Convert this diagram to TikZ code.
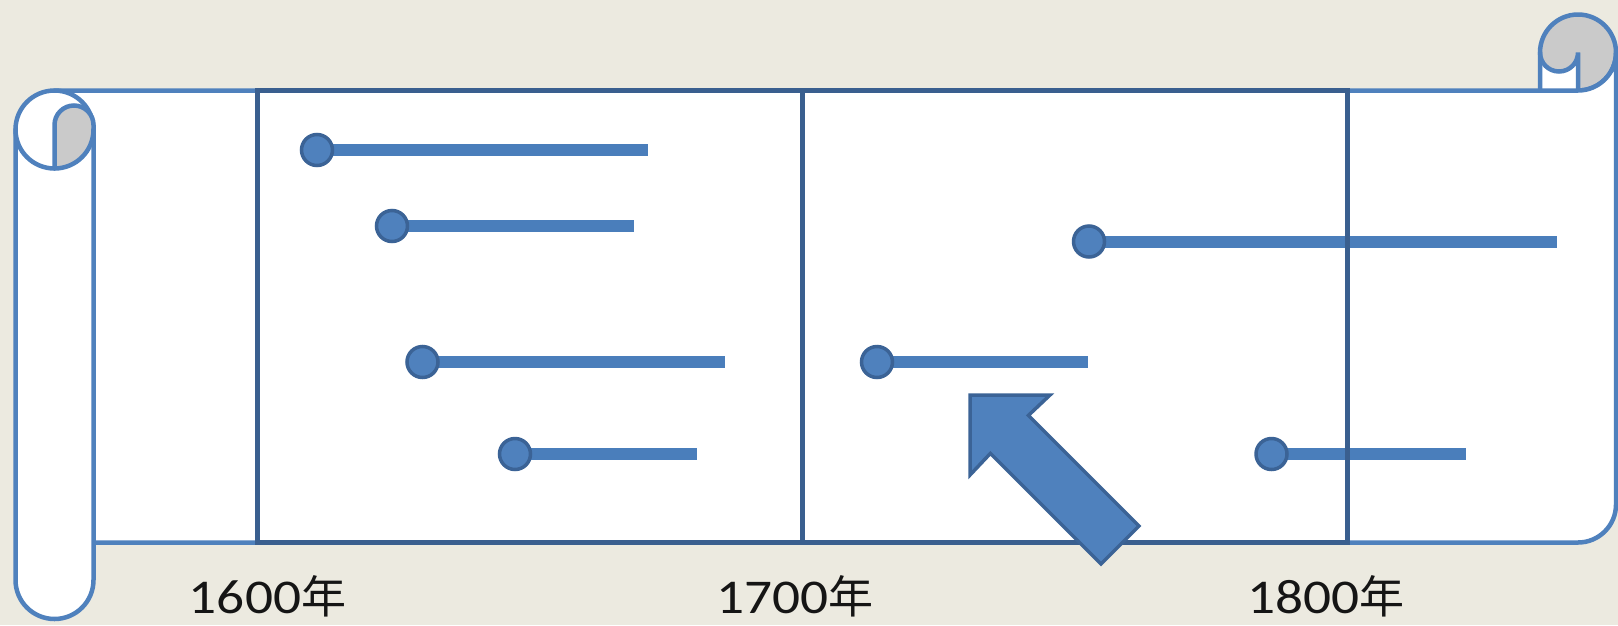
\documentclass[tikz,border=0pt]{standalone}
\usepackage{fontspec}
\setmainfont{Carlito}[FakeStretch=1.14]
\newfontfamily\cjk{Noto Sans CJK JP}
\definecolor{bgc}{HTML}{ECEAE0}
\definecolor{scrollc}{HTML}{4F81BD}
\definecolor{gridc}{HTML}{3A5F8F}
\definecolor{barc}{HTML}{4A7EBB}
\definecolor{dotline}{HTML}{3B6396}
\definecolor{greyc}{HTML}{CACACA}
\definecolor{txtc}{HTML}{151515}
\tikzset{
  scrollpath/.style={draw=scrollc, line width=4.5pt, fill=white, line join=round},
  scrollline/.style={draw=scrollc, line width=4.5pt, line cap=round},
  gridline/.style={draw=gridc, line width=5pt},
  barline/.style={draw=barc, line width=12pt},
  dotnode/.style={circle, fill=scrollc, draw=dotline, line width=3.5pt, minimum size=31pt, inner sep=0pt},
  bigarrow/.style={fill=scrollc, draw=dotline, line width=3.5pt, line join=miter},
  yearlab/.style={anchor=base, text=txtc, inner sep=0pt, font=\fontsize{48.5}{52}\selectfont}
}
\begin{document}
\begin{tikzpicture}[x=1pt,y=-1pt]
\fill[bgc] (0,0) rectangle (1618,625);
\useasboundingbox (0,0) rectangle (1618,625);
% right curl
\path[fill=greyc] (1540,52.5) arc[start angle=180,end angle=360,radius=38] arc[start angle=0,end angle=90,radius=38] -- (1578,52.5) arc[start angle=0,end angle=180,radius=19] -- cycle;
\fill[white] (1540,52.5) arc[start angle=180,end angle=0,radius=19] -- (1578,90.5) -- (1540,90.5) -- cycle;
\draw[scrollline] (1540,90.5) -- (1540,52.5) arc[start angle=180,end angle=450,radius=38];
\draw[scrollline] (1540,52.5) arc[start angle=180,end angle=0,radius=19] -- (1578,90.5);
% body
\path[scrollpath] (54.5,90.5) -- (1578,90.5) arc[start angle=90,end angle=0,radius=38] -- (1616,504.5) arc[start angle=0,end angle=90,radius=38] -- (54.5,542.5) -- cycle;
% left cylinder
\path[scrollpath] (93.5,129.5) -- (93.5,580) arc[start angle=0,end angle=180,radius=39] -- (15.5,129.5) arc[start angle=180,end angle=360,radius=39] -- cycle;
\path[fill=greyc] (54.5,125) arc[start angle=180,end angle=360,radius=19.5] -- (93.5,129.5) arc[start angle=0,end angle=90,radius=39] -- cycle;
\draw[scrollline] (15.5,129.5) arc[start angle=180,end angle=0,radius=39];
\draw[scrollline] (54.5,168.5) -- (54.5,125) arc[start angle=180,end angle=360,radius=19.5] -- (93.5,129.5);
% bars
\coordinate (e1) at (648,150);
\coordinate (e2) at (634,226);
\coordinate (e3) at (725,362);
\coordinate (e4) at (697,454);
\coordinate (e5) at (1557,241.5);
\coordinate (e6) at (1088,362);
\coordinate (e7) at (1466,454);
\coordinate (s1) at (317,150);
\coordinate (s2) at (392,226);
\coordinate (s3) at (422.5,362);
\coordinate (s4) at (515,454);
\coordinate (s5) at (1089,241.5);
\coordinate (s6) at (877,362);
\coordinate (s7) at (1271.5,454);
\foreach \i in {1,...,7} {\draw[barline] (s\i) -- (e\i);}
% grid
\draw[gridline] (257.5,90.5) rectangle (1347,542.5);
\draw[gridline] (802,90.5) -- (802,542.5);
% dots
\foreach \i in {1,...,7} {\node[dotnode] (d\i) at (s\i) {};}
% arrow
\path[bigarrow] (970,395) -- (1050,395) -- (1028.4,415.4) -- (1139,526) -- (1101,564) -- (990.4,453.4) -- (970,475) -- cycle;
% labels
\node[yearlab] (y1) at (267.5,613) {1600{\cjk\fontsize{45}{50}\selectfont 年}};
\node[yearlab] (y2) at (795,613) {1700{\cjk\fontsize{45}{50}\selectfont 年}};
\node[yearlab] (y3) at (1326,613) {1800{\cjk\fontsize{45}{50}\selectfont 年}};
\end{tikzpicture}
\end{document}
